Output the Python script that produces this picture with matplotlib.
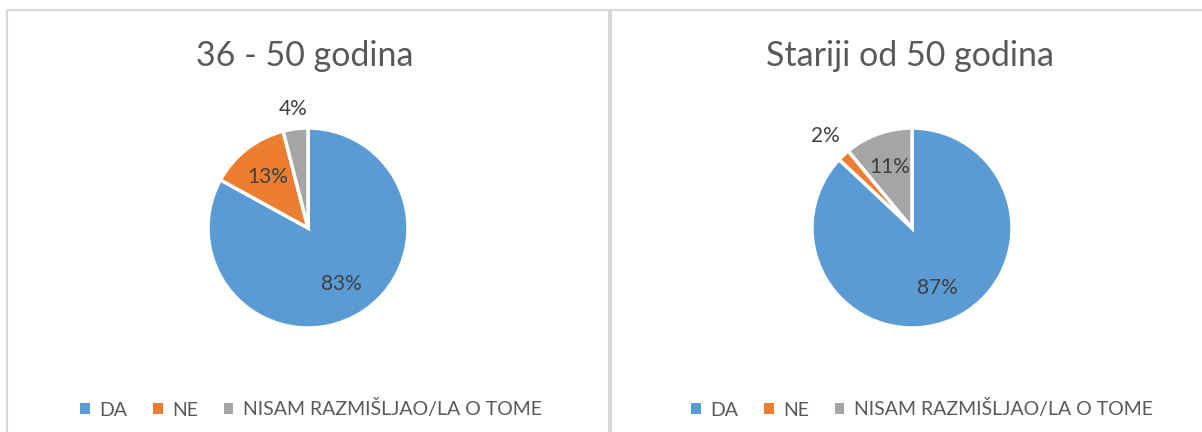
import numpy as np
import matplotlib.pyplot as plt
from matplotlib.patches import Rectangle, Patch

plt.rcParams['font.family'] = ['Lato', 'DejaVu Sans']

# data
categories = ['DA', 'NE', 'NISAM RAZMIŠLJAO/LA O TOME']
titles = ['36 - 50 godina', 'Stariji od 50 godina']
values_left = [83, 13, 4]
values_right = [87, 2, 11]

colors = ['#5B9BD5', '#ED7D31', '#A5A5A5']
W, H = 1202, 432

fig = plt.figure(figsize=(W / 100, H / 100), dpi=100)

# panel borders
fig.patches.append(Rectangle((7 / W, -0.1), 602 / W, (H - 10) / H + 0.1,
                             transform=fig.transFigure, fill=False,
                             edgecolor='#D9D9D9', linewidth=1.5))
fig.patches.append(Rectangle((611 / W, -0.1), 0.5, (H - 10) / H + 0.1,
                             transform=fig.transFigure, fill=False,
                             edgecolor='#D9D9D9', linewidth=1.5))


def draw_pie(cx, cy, vals, title, outside_dist, title_x, legend_x):
    box = 130
    ax = fig.add_axes([(cx - box) / W, (H - cy - box) / H, 2 * box / W, 2 * box / H])
    wedges, texts, autotexts = ax.pie(vals, colors=colors, startangle=90, counterclock=False,
                                      autopct='%d%%', pctdistance=0.65,
                                      wedgeprops=dict(edgecolor='white', linewidth=2.5),
                                      textprops=dict(color='#404040', fontsize=15))
    # small slices get their label outside
    for w, t, v in zip(wedges, autotexts, vals):
        if v < 5:
            ang = np.deg2rad((w.theta1 + w.theta2) / 2)
            t.set_position((outside_dist * np.cos(ang), outside_dist * np.sin(ang)))
    ax.set_xlim(-1.3, 1.3)
    ax.set_ylim(-1.3, 1.3)
    ax.set_aspect('equal')
    ax.axis('off')
    fig.text(title_x / W, (H - 56) / H, title, ha='center', va='center',
             fontsize=24.5, color='#595959')
    handles = [Patch(facecolor=c, edgecolor='none') for c in colors]
    fig.legend(handles, categories, loc='center', bbox_to_anchor=(legend_x / W, (H - 409) / H),
               ncol=3, frameon=False, fontsize=14, labelcolor='#595959',
               handlelength=0.5, handleheight=0.5, handletextpad=0.5, columnspacing=1.3)


draw_pie(308, 228, values_left, titles[0], 1.2, 305, 311)
draw_pie(912, 228, values_right, titles[1], 1.26, 910, 922)

fig.savefig('out.png', dpi=100, facecolor='white')
